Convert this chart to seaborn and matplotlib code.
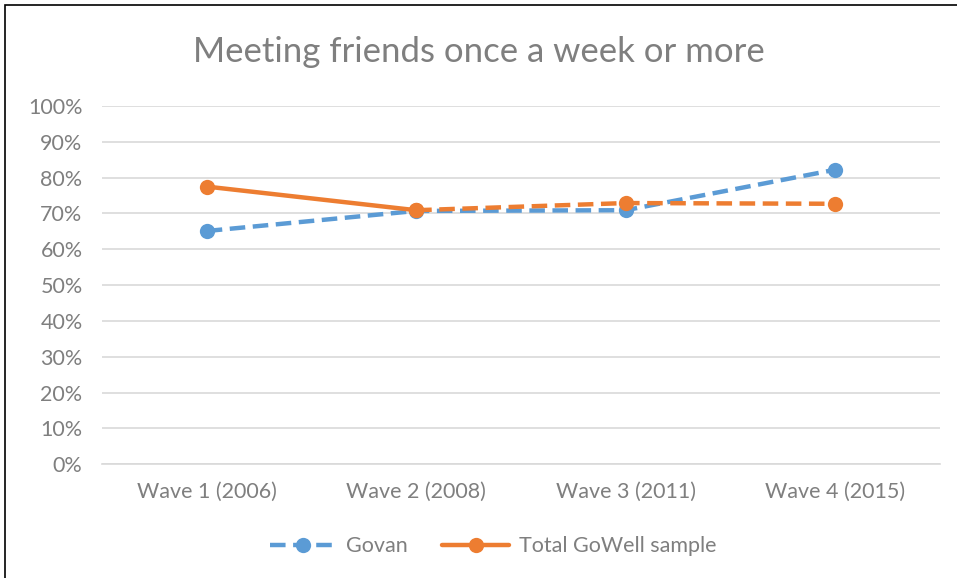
import pandas as pd
import seaborn as sns
import matplotlib.pyplot as plt
from matplotlib.lines import Line2D
from matplotlib.patches import Rectangle
from matplotlib.ticker import PercentFormatter

waves = ["Wave 1 (2006)", "Wave 2 (2008)", "Wave 3 (2011)", "Wave 4 (2015)"]
govan = [65.1, 70.7, 70.9, 82.2]
total = [77.5, 70.9, 72.9, 72.7]
y_ticks = list(range(0, 101, 10))

blue = "#5B9BD5"
orange = "#ED7D31"
grey = "#7F7F7F"

sns.set_style("white")
plt.rcParams['font.family'] = ['Lato', 'DejaVu Sans']

df_g = pd.DataFrame({"wave": waves, "value": govan})
df_t = pd.DataFrame({"wave": waves, "value": total})

fig = plt.figure(figsize=(9.57, 5.78), dpi=100)
ax = fig.add_axes([0.1066, 0.197, 0.8754, 0.6196])

lw = 3.2
ms = 11
dash = (3.5, 1.7)

# Govan - dashed all the way
sns.lineplot(data=df_g, x="wave", y="value", ax=ax, color=blue, lw=lw,
             marker="o", markersize=ms, markeredgewidth=0, sort=False)
ax.lines[-1].set_dashes(dash)

# Total: solid from wave 1 to 2, dashed afterwards
sns.lineplot(data=df_t.iloc[1:], x="wave", y="value", ax=ax, color=orange,
             lw=lw, marker="o", markersize=ms, markeredgewidth=0, sort=False)
ax.lines[-1].set_dashes(dash)
sns.lineplot(data=df_t.iloc[:2], x="wave", y="value", ax=ax, color=orange,
             lw=lw, marker="o", markersize=ms, markeredgewidth=0, sort=False)

ax.set_xlim(-0.5, 3.5)
ax.set_ylim(0, 100)
ax.set_yticks(y_ticks)
ax.yaxis.set_major_formatter(PercentFormatter(decimals=0))
ax.grid(axis="y", color="#D9D9D9", lw=1.2)
ax.set_axisbelow(True)
for s in ["top", "right", "left"]:
    ax.spines[s].set_visible(False)
ax.spines["bottom"].set_color("#D9D9D9")
ax.spines["bottom"].set_linewidth(1.2)
ax.tick_params(axis="both", length=0, labelsize=15.5, labelcolor=grey)
ax.tick_params(axis="x", pad=13)
ax.tick_params(axis="y", pad=14)
ax.set_xlabel("")
ax.set_ylabel("")

fig.text(0.5, 0.91, "Meeting friends once a week or more", ha="center",
         va="center", fontsize=25, color=grey)

handles = [
    Line2D([], [], color=blue, lw=lw, dashes=dash, marker="o", markersize=ms, markeredgewidth=0),
    Line2D([], [], color=orange, lw=lw, marker="o", markersize=ms, markeredgewidth=0),
]
fig.legend(handles, ["Govan", "Total GoWell sample"], loc="center",
           bbox_to_anchor=(0.515, 0.055), ncol=2, frameon=False,
           fontsize=15.5, labelcolor=grey, handlelength=3.1,
           handletextpad=0.45, columnspacing=1.6)

fig.patches.append(Rectangle((5 / 957, -0.1), 1.2, 1.1 - 5 / 578,
                             transform=fig.transFigure, fill=False,
                             edgecolor="black", lw=1.2))

fig.savefig("out.png", dpi=100)
